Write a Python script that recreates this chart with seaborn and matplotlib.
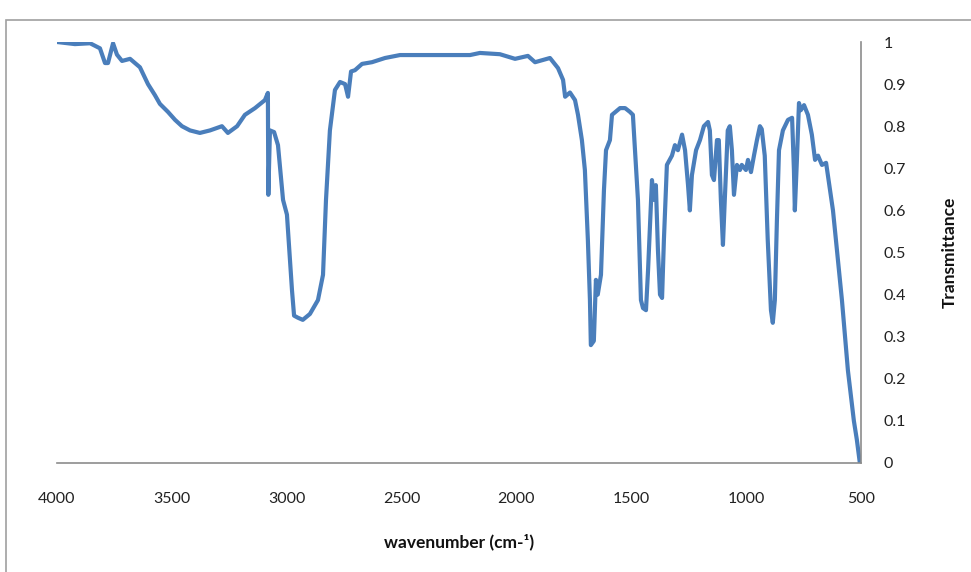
import numpy as np
import seaborn as sns
import matplotlib.pyplot as plt
from matplotlib.patches import Rectangle

# IR spectrum
wavenumber = [4000, 3922, 3856, 3813, 3791, 3778, 3756, 3739, 3717, 3682, 3639, 3604,
              3574, 3552, 3517, 3486, 3456, 3421, 3378, 3334, 3282, 3256, 3216, 3182, 3138, 3095, 3082,
              3080, 3073, 3055, 3038, 3016, 2999, 2977, 2968, 2951, 2930, 2899, 2864,
              2842, 2829, 2812, 2790, 2768, 2746, 2733, 2720, 2703, 2672, 2629, 2572,
              2507, 2376, 2202, 2159, 2072, 2006, 1950, 1919, 1854, 1819, 1797, 1788,
              1767, 1745, 1732, 1715, 1702, 1689, 1680, 1676, 1663, 1654, 1646, 1632,
              1619, 1610, 1593, 1584, 1549, 1527, 1506, 1493, 1484, 1471, 1458, 1449,
              1436, 1427, 1414, 1410, 1401, 1393, 1384, 1375, 1366, 1358, 1345, 1323,
              1310, 1297, 1279, 1266, 1253, 1245, 1236, 1218, 1201, 1184, 1166, 1158,
              1149, 1140, 1127, 1119, 1110, 1101, 1093, 1080, 1071, 1062, 1053, 1040,
              1027, 1019, 1001, 992, 979, 966, 953, 940, 932, 919, 906, 892, 884, 875,
              866, 857, 840, 818, 800, 792, 788, 779, 770, 762, 748, 731, 714, 700, 687,
              670, 652, 635, 622, 609, 596, 583, 570, 557, 544, 531, 518, 505]
transmittance = [1.0, 0.995, 0.997, 0.985, 0.95, 0.95, 0.997, 0.97, 0.955, 0.96, 0.94, 0.90,
                 0.874, 0.853, 0.834, 0.815, 0.80, 0.79, 0.784, 0.79, 0.80, 0.784, 0.80, 0.827, 0.843, 0.862, 0.879,
                 0.637, 0.79, 0.786, 0.755, 0.625, 0.59, 0.41, 0.35, 0.345, 0.34, 0.354, 0.387,
                 0.447, 0.625, 0.79, 0.886, 0.905, 0.90, 0.87, 0.93, 0.933, 0.948, 0.952, 0.962,
                 0.969, 0.969, 0.969, 0.974, 0.971, 0.96, 0.967, 0.952, 0.962, 0.938, 0.91, 0.87,
                 0.88, 0.862, 0.827, 0.767, 0.696, 0.53, 0.387, 0.28, 0.29, 0.435, 0.40, 0.447,
                 0.648, 0.743, 0.767, 0.827, 0.843, 0.843, 0.834, 0.827, 0.743, 0.625, 0.387, 0.368,
                 0.363, 0.458, 0.625, 0.672, 0.625, 0.66, 0.506, 0.40, 0.392, 0.53, 0.708, 0.73,
                 0.755, 0.743, 0.78, 0.743, 0.66, 0.60, 0.684, 0.743, 0.767, 0.80, 0.81, 0.79,
                 0.684, 0.672, 0.767, 0.767, 0.625, 0.518, 0.625, 0.79, 0.80, 0.743, 0.637, 0.708,
                 0.696, 0.708, 0.696, 0.72, 0.691, 0.73, 0.767, 0.80, 0.793, 0.73, 0.53, 0.363, 0.333, 0.387,
                 0.577, 0.743, 0.79, 0.815, 0.82, 0.696, 0.60, 0.72, 0.855, 0.838, 0.85, 0.827, 0.78, 0.72, 0.73,
                 0.708, 0.713, 0.648, 0.60, 0.53, 0.458, 0.387, 0.304, 0.22, 0.16, 0.10, 0.055, 0.0]

x_ticks = [4000, 3500, 3000, 2500, 2000, 1500, 1000, 500]
y_ticks = [0, 0.1, 0.2, 0.3, 0.4, 0.5, 0.6, 0.7, 0.8, 0.9, 1]

sns.set_style("white")
plt.rcParams['font.family'] = ['Lato', 'DejaVu Sans']

fig = plt.figure(figsize=(9.71, 5.72), dpi=100)
ax = fig.add_axes([57/971, 1 - 463/572, (861-57)/971, (463-42)/572])

sns.lineplot(x=wavenumber, y=transmittance, ax=ax, estimator=None, sort=False,
             color="#4A7EBB", linewidth=3)

ax.set_xlim(4000, 500)
ax.set_ylim(0, 1)
ax.set_xticks(x_ticks)
ax.set_xticklabels([str(t) for t in x_ticks])
ax.set_yticks(y_ticks)
ax.set_yticklabels([f"{t:g}" for t in y_ticks])
ax.yaxis.tick_right()
ax.yaxis.set_label_position("right")
ax.tick_params(axis='x', length=0, pad=21, labelsize=11.5, colors="#222222")
ax.tick_params(axis='y', length=0, pad=16, labelsize=11.5, colors="#222222")

for side in ["top", "left"]:
    ax.spines[side].set_visible(False)
for side in ["bottom", "right"]:
    ax.spines[side].set_color("#8c8c8c")
    ax.spines[side].set_linewidth(1.2)

ax.set_xlabel("wavenumber (cm-\u00b9)", fontsize=12.5, fontweight="bold", labelpad=20, color="#111111")
ax.set_ylabel("Transmittance", fontsize=12.5, fontweight="bold", labelpad=26, color="#111111")

# chart border (Excel-style frame, cropped at right and bottom)
fig.patches.append(Rectangle((6/971, -0.1), 1.2, 0.1 + (572-20)/572, transform=fig.transFigure,
                             fill=False, edgecolor="#a0a0a0", linewidth=1.2))

fig.savefig("out.png", dpi=100)
